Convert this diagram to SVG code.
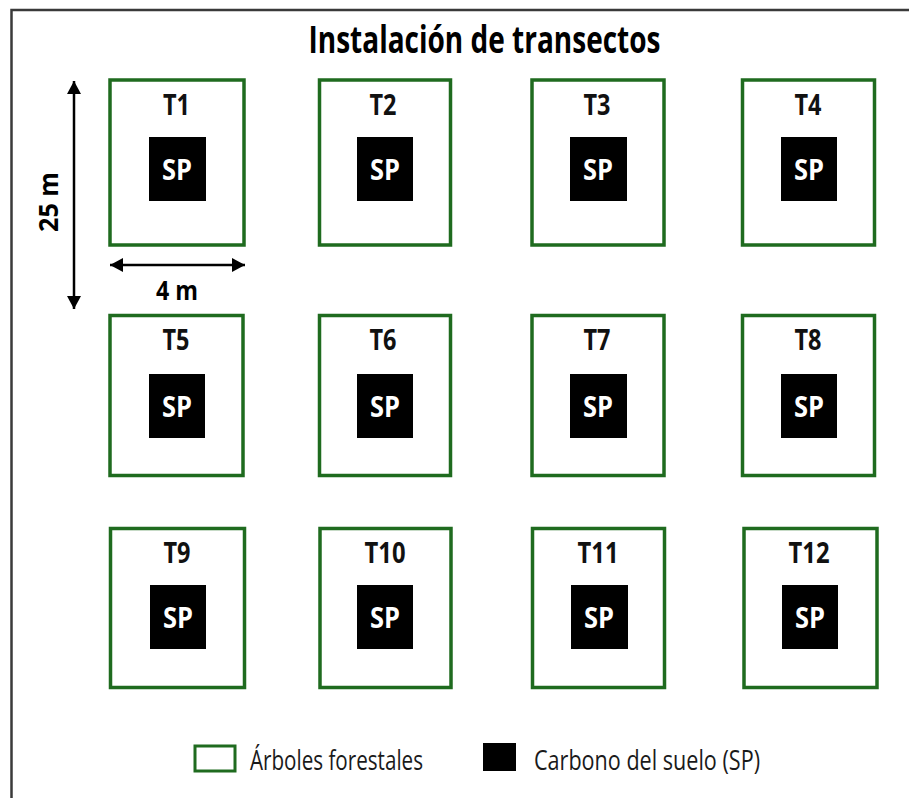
<svg xmlns="http://www.w3.org/2000/svg" width="909" height="798" viewBox="0 0 909 798">
<style>
text{font-family:"Open Sans","Noto Sans","Liberation Sans",sans-serif;fill:#000;text-anchor:middle}
.b{font-weight:700}
.t{font-size:28px;font-weight:700;fill:#111}
.s{font-size:29px;font-weight:700;fill:#fff}
.box{fill:#fff;stroke:#1f6b1f;stroke-width:3.5}
.sp{fill:#000}
.a{stroke:#000;stroke-width:2.5;fill:none}
.l{font-size:28px;text-anchor:start;fill:#1a1a1a}
</style>
<defs>
<marker id="ah" markerUnits="userSpaceOnUse" markerWidth="14" markerHeight="14" refX="13" refY="7" orient="auto-start-reverse"><path d="M0 0L13 7L0 14Z" fill="#000"/></marker>
</defs>
<rect width="909" height="798" fill="#fff"/>
<path d="M11.500 798V10H909" fill="none" stroke="#3a3a3a" stroke-width="2.500"/>
<text class="b" x="484.500" y="53" font-size="37" textLength="352" lengthAdjust="spacingAndGlyphs">Instalación de transectos</text>
<g id="T1"><rect class="box" x="110" y="80" width="134" height="165"/><text class="t" x="176.500" y="115" textLength="27" lengthAdjust="spacingAndGlyphs">T1</text><rect class="sp" x="149" y="137" width="57" height="64"/><text class="s" x="177" y="180" textLength="30" lengthAdjust="spacingAndGlyphs">SP</text></g>
<g id="T2"><rect class="box" x="319.500" y="80" width="131" height="165"/><text class="t" x="383" y="115" textLength="27" lengthAdjust="spacingAndGlyphs">T2</text><rect class="sp" x="357" y="137" width="56" height="64"/><text class="s" x="385" y="180" textLength="30" lengthAdjust="spacingAndGlyphs">SP</text></g>
<g id="T3"><rect class="box" x="532" y="80" width="132" height="165"/><text class="t" x="597" y="115" textLength="27" lengthAdjust="spacingAndGlyphs">T3</text><rect class="sp" x="570" y="137" width="57" height="64"/><text class="s" x="598" y="180" textLength="30" lengthAdjust="spacingAndGlyphs">SP</text></g>
<g id="T4"><rect class="box" x="742.500" y="80" width="132" height="165"/><text class="t" x="808" y="115" textLength="27" lengthAdjust="spacingAndGlyphs">T4</text><rect class="sp" x="781" y="137" width="56" height="64"/><text class="s" x="809" y="180" textLength="30" lengthAdjust="spacingAndGlyphs">SP</text></g>
<g id="T5"><rect class="box" x="110" y="315.500" width="133" height="160"/><text class="t" x="176" y="350" textLength="27" lengthAdjust="spacingAndGlyphs">T5</text><rect class="sp" x="149" y="374" width="56" height="64"/><text class="s" x="177" y="417" textLength="30" lengthAdjust="spacingAndGlyphs">SP</text></g>
<g id="T6"><rect class="box" x="319.500" y="315.500" width="131" height="160"/><text class="t" x="383" y="350" textLength="27" lengthAdjust="spacingAndGlyphs">T6</text><rect class="sp" x="357" y="374" width="56" height="64"/><text class="s" x="385" y="417" textLength="30" lengthAdjust="spacingAndGlyphs">SP</text></g>
<g id="T7"><rect class="box" x="532" y="315.500" width="132" height="160"/><text class="t" x="597" y="350" textLength="27" lengthAdjust="spacingAndGlyphs">T7</text><rect class="sp" x="570" y="374" width="57" height="64"/><text class="s" x="598" y="417" textLength="30" lengthAdjust="spacingAndGlyphs">SP</text></g>
<g id="T8"><rect class="box" x="742.500" y="315.500" width="132" height="160"/><text class="t" x="808" y="350" textLength="27" lengthAdjust="spacingAndGlyphs">T8</text><rect class="sp" x="781" y="374" width="56" height="64"/><text class="s" x="809" y="417" textLength="30" lengthAdjust="spacingAndGlyphs">SP</text></g>
<g id="T9"><rect class="box" x="110.500" y="528.500" width="134" height="159"/><text class="t" x="177" y="563" textLength="27" lengthAdjust="spacingAndGlyphs">T9</text><rect class="sp" x="150" y="585" width="56" height="64"/><text class="s" x="178" y="628" textLength="30" lengthAdjust="spacingAndGlyphs">SP</text></g>
<g id="T10"><rect class="box" x="320" y="528.500" width="131" height="159"/><text class="t" x="385" y="563" textLength="41" lengthAdjust="spacingAndGlyphs">T10</text><rect class="sp" x="357" y="585" width="56" height="64"/><text class="s" x="385" y="628" textLength="30" lengthAdjust="spacingAndGlyphs">SP</text></g>
<g id="T11"><rect class="box" x="532.500" y="528.500" width="132" height="159"/><text class="t" x="598" y="563" textLength="41" lengthAdjust="spacingAndGlyphs">T11</text><rect class="sp" x="571" y="585" width="57" height="64"/><text class="s" x="599" y="628" textLength="30" lengthAdjust="spacingAndGlyphs">SP</text></g>
<g id="T12"><rect class="box" x="744" y="528.500" width="133" height="159"/><text class="t" x="809" y="563" textLength="41" lengthAdjust="spacingAndGlyphs">T12</text><rect class="sp" x="782" y="585" width="56" height="64"/><text class="s" x="810" y="628" textLength="30" lengthAdjust="spacingAndGlyphs">SP</text></g>
<g id="connectors">
<line class="a" x1="74" y1="81" x2="74" y2="309" marker-start="url(#ah)" marker-end="url(#ah)"/>
<line class="a" x1="110" y1="265" x2="245" y2="265" marker-start="url(#ah)" marker-end="url(#ah)"/>
</g>
<text class="b" x="177" y="300" font-size="27" textLength="42" lengthAdjust="spacingAndGlyphs">4 m</text>
<text class="b" transform="translate(58 202) rotate(-90)" font-size="27" textLength="60" lengthAdjust="spacingAndGlyphs">25 m</text>
<g id="legend">
<rect x="195" y="746" width="40" height="25" fill="#fff" stroke="#1f6b1f" stroke-width="3"/>
<text class="l" x="250" y="770" textLength="173" lengthAdjust="spacingAndGlyphs">Árboles forestales</text>
<rect class="sp" x="483" y="743" width="33" height="28"/>
<text class="l" x="534" y="770" textLength="226" lengthAdjust="spacingAndGlyphs">Carbono del suelo (SP)</text>
</g>
</svg>
